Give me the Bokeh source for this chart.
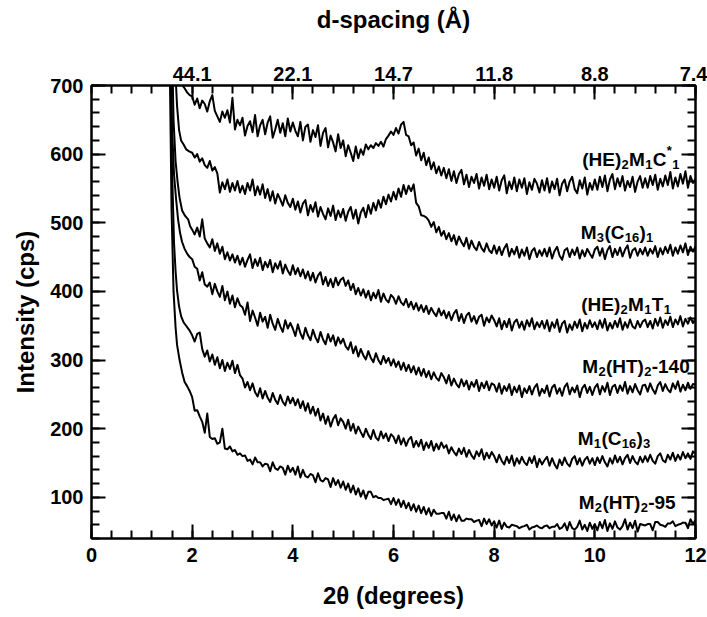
from bokeh.plotting import figure
from bokeh.models import LinearAxis, FixedTicker, ColumnDataSource
from bokeh.embed import file_html
from bokeh.resources import INLINE
from bokeh.core.properties import value

# ---------------- data ----------------
# common 2-theta sampling (degrees) for the noisy part of every pattern
x_grid = [round(2.0 + 0.05 * i, 2) for i in range(201)]

# (HE)2M1C*1
c1_lead_x = [1.50, 1.60, 1.66, 1.72, 1.78, 1.84, 1.90, 1.95]
c1_lead_y = [1100, 860, 760, 718, 703, 697, 690, 686]
c1_y = [
    684, 672, 681, 667, 678, 673, 662, 677, 686, 663, 655, 647, 662, 653, 664, 646, 682, 636, 650, 642,
    653, 627, 641, 648, 632, 657, 626, 642, 650, 629, 646, 655, 624, 636, 650, 631, 645, 626, 652, 633,
    646, 634, 626, 647, 620, 640, 643, 618, 635, 625, 642, 612, 631, 638, 610, 627, 617, 604, 629, 609,
    620, 597, 613, 602, 590, 611, 594, 607, 599, 614, 607, 613, 609, 616, 612, 618, 611, 622, 627, 633,
    628, 638, 630, 643, 647, 628, 626, 613, 617, 598, 608, 591, 602, 584, 595, 578, 588, 572, 582, 569,
    580, 565, 578, 561, 575, 558, 571, 577, 556, 570, 552, 567, 558, 571, 550, 566, 554, 570, 549, 563,
    551, 567, 547, 562, 569, 543, 560, 549, 566, 546, 563, 551, 565, 542, 559, 548, 564, 557, 544, 562,
    547, 565, 544, 560, 549, 564, 540, 557, 563, 546, 560, 567, 549, 543, 562, 550, 566, 541, 558, 548,
    563, 548, 567, 552, 569, 546, 563, 571, 549, 565, 553, 568, 547, 561, 552, 567, 545, 560, 568, 551,
    565, 551, 568, 555, 570, 548, 564, 553, 569, 555, 574, 550, 566, 553, 571, 557, 575, 551, 568, 558,
    564,
]

# M3(C16)1
c2_lead_x = [1.50, 1.60, 1.66, 1.70, 1.74, 1.78, 1.83, 1.88, 1.94]
c2_lead_y = [1100, 850, 730, 670, 635, 620, 614, 607, 604]
c2_y = [
    602, 595, 600, 589, 594, 584, 580, 590, 576, 581, 572, 544, 559, 549, 563, 545, 558, 547, 561, 544,
    554, 542, 558, 547, 563, 540, 553, 541, 556, 536, 549, 532, 546, 528, 542, 534, 525, 540, 529, 523,
    535, 519, 531, 515, 528, 533, 511, 526, 516, 530, 509, 523, 513, 505, 521, 510, 525, 504, 518, 508,
    520, 503, 516, 523, 506, 519, 499, 515, 522, 508, 526, 513, 529, 518, 533, 522, 538, 527, 541, 531,
    545, 534, 550, 538, 555, 542, 554, 546, 556, 529, 524, 511, 510, 508, 503, 494, 501, 486, 494, 481,
    488, 476, 485, 473, 482, 468, 480, 472, 466, 478, 462, 474, 465, 460, 472, 463, 458, 470, 460, 456,
    467, 455, 465, 453, 463, 469, 451, 462, 454, 465, 449, 461, 452, 464, 447, 459, 463, 450, 460, 452,
    462, 451, 464, 448, 459, 465, 452, 446, 460, 463, 450, 461, 453, 464, 448, 460, 451, 462, 455, 449,
    461, 465, 452, 463, 447, 460, 466, 450, 462, 453, 464, 451, 461, 467, 449, 460, 463, 452, 462, 454,
    464, 452, 462, 455, 466, 450, 463, 454, 465, 456, 468, 452, 464, 455, 467, 457, 470, 453, 465, 458,
    466,
]

# (HE)2M1T1
c3_lead_x = [1.50, 1.58, 1.63, 1.67, 1.71, 1.75, 1.80, 1.86, 1.92, 1.96]
c3_lead_y = [1100, 820, 650, 590, 560, 536, 518, 510, 505, 495]
c3_y = [
    490, 483, 493, 480, 505, 477, 470, 464, 476, 459, 470, 455, 465, 447, 457, 445, 454, 442, 452, 439,
    449, 436, 446, 454, 434, 447, 437, 449, 431, 443, 435, 446, 428, 441, 433, 444, 426, 439, 430, 424,
    438, 425, 434, 422, 432, 419, 429, 416, 427, 413, 423, 428, 410, 421, 408, 418, 406, 420, 409, 417,
    420, 408, 416, 402, 411, 396, 405, 394, 403, 391, 401, 387, 398, 390, 402, 385, 397, 388, 384, 395,
    391, 382, 393, 384, 380, 389, 377, 385, 374, 383, 372, 380, 370, 379, 367, 376, 369, 364, 375, 365,
    372, 361, 370, 358, 368, 373, 357, 367, 354, 365, 369, 356, 364, 353, 363, 366, 350, 362, 355, 365,
    358, 349, 361, 345, 357, 348, 360, 343, 355, 359, 347, 356, 344, 358, 349, 361, 345, 355, 348, 357,
    346, 358, 342, 355, 347, 359, 341, 353, 357, 340, 352, 344, 356, 347, 359, 342, 354, 346, 358, 348,
    355, 345, 358, 347, 360, 343, 354, 346, 357, 348, 361, 344, 355, 347, 359, 349, 346, 357, 348, 356,
    359, 348, 357, 346, 360, 350, 362, 347, 358, 351, 363, 348, 359, 352, 364, 349, 360, 353, 362, 354,
    360,
]

# M2(HT)2-140
c4_lead_x = [1.50, 1.56, 1.60, 1.64, 1.68, 1.72, 1.76, 1.80, 1.85, 1.90, 1.95]
c4_lead_y = [1100, 800, 640, 570, 535, 505, 485, 472, 462, 455, 450]
c4_y = [
    447, 436, 433, 416, 428, 410, 407, 413, 396, 411, 400, 392, 408, 387, 400, 382, 394, 377, 390, 380,
    377, 366, 384, 357, 372, 362, 350, 369, 356, 363, 347, 366, 353, 344, 360, 349, 341, 358, 346, 354,
    346, 335, 352, 339, 331, 347, 336, 329, 344, 333, 326, 341, 330, 323, 338, 327, 336, 321, 333, 324,
    331, 320, 315, 326, 310, 320, 305, 316, 307, 301, 313, 303, 297, 310, 300, 294, 306, 296, 303, 292,
    301, 290, 298, 286, 296, 284, 293, 282, 291, 279, 289, 277, 287, 275, 284, 272, 282, 274, 270, 281,
    275, 266, 278, 263, 273, 265, 260, 272, 262, 270, 257, 268, 261, 271, 255, 267, 259, 269, 256, 266,
    264, 254, 266, 251, 262, 255, 265, 249, 261, 253, 263, 246, 259, 252, 262, 250, 260, 265, 248, 258,
    252, 263, 247, 260, 264, 251, 259, 248, 261, 266, 250, 260, 253, 263, 246, 259, 264, 252, 261, 249,
    260, 265, 250, 262, 254, 267, 249, 261, 264, 252, 263, 255, 268, 251, 262, 253, 265, 256, 250, 263,
    264, 254, 266, 257, 251, 263, 268, 255, 265, 257, 253, 266, 258, 269, 254, 264, 256, 267, 258, 265,
    264,
]

# M1(C16)3
c5_lead_x = [1.50, 1.56, 1.60, 1.64, 1.67, 1.70, 1.74, 1.78, 1.83, 1.88, 1.94]
c5_lead_y = [1100, 780, 580, 470, 430, 401, 378, 364, 355, 350, 344]
c5_y = [
    336, 327, 338, 340, 316, 305, 314, 298, 308, 293, 304, 288, 300, 284, 296, 287, 299, 281, 293, 278,
    273, 260, 268, 256, 266, 253, 247, 259, 244, 255, 245, 239, 252, 242, 236, 249, 239, 234, 247, 237,
    245, 234, 243, 230, 240, 226, 237, 222, 232, 219, 229, 212, 222, 207, 218, 203, 214, 220, 205, 215,
    210, 200, 213, 197, 207, 193, 203, 195, 188, 200, 191, 185, 198, 187, 183, 196, 186, 193, 182, 192,
    188, 179, 190, 177, 186, 175, 184, 188, 173, 182, 174, 184, 169, 180, 172, 182, 168, 178, 170, 180,
    172, 176, 164, 173, 166, 161, 171, 163, 172, 159, 169, 161, 156, 167, 160, 170, 155, 165, 157, 166,
    160, 151, 162, 153, 148, 159, 150, 161, 146, 157, 149, 159, 151, 147, 158, 150, 160, 144, 156, 148,
    154, 159, 146, 157, 148, 142, 155, 147, 158, 149, 145, 156, 160, 148, 157, 146, 155, 159, 149, 157,
    147, 158, 150, 160, 151, 145, 157, 149, 161, 151, 159, 148, 157, 162, 150, 160, 152, 148, 159, 151,
    160, 152, 162, 153, 149, 160, 164, 154, 151, 162, 155, 165, 153, 162, 155, 166, 157, 164, 156, 167,
    163,
]

# M2(HT)2-95
c6_lead_x = [1.50, 1.55, 1.59, 1.63, 1.67, 1.70, 1.75, 1.80, 1.85, 1.90, 1.95]
c6_lead_y = [1100, 760, 520, 400, 348, 322, 300, 282, 268, 262, 255]
c6_y = [
    246, 226, 227, 218, 210, 194, 222, 188, 185, 186, 178, 180, 200, 171, 170, 174, 167, 169, 162, 164,
    160, 161, 153, 155, 148, 158, 151, 151, 145, 149, 148, 138, 151, 142, 140, 145, 143, 133, 146, 137,
    143, 133, 145, 129, 140, 131, 129, 134, 132, 122, 135, 125, 123, 128, 126, 115, 128, 118, 125, 114,
    123, 111, 120, 107, 117, 104, 113, 101, 110, 98, 108, 108, 100, 102, 99, 99, 96, 97, 98, 90,
    99, 89, 97, 86, 95, 84, 92, 81, 90, 79, 88, 77, 86, 75, 84, 73, 82, 76, 76, 77,
    77, 69, 79, 67, 75, 65, 74, 66, 66, 69, 68, 68, 64, 66, 67, 58, 69, 61, 68, 59,
    65, 56, 66, 54, 63, 57, 56, 60, 59, 58, 55, 57, 58, 60, 53, 56, 57, 59, 56, 55,
    58, 59, 55, 57, 57, 61, 54, 56, 62, 52, 64, 55, 53, 57, 66, 53, 60, 51, 63, 54,
    61, 52, 64, 55, 67, 51, 62, 54, 65, 56, 53, 58, 68, 53, 63, 55, 66, 50, 61, 60,
    59, 61, 61, 52, 64, 64, 60, 59, 57, 62, 62, 65, 58, 60, 61, 63, 63, 55, 68, 61,
    67,
]

# axis ticks
x_major_ticks = [0, 2, 4, 6, 8, 10, 12]
x_minor_ticks = [round(0.4 * i, 1) for i in range(31)]
y_major_ticks = [100, 200, 300, 400, 500, 600, 700]
y_minor_ticks = list(range(40, 701, 20))
top_ticks = [2, 4, 6, 8, 10, 12]
top_tick_labels = ["44.1", "22.1", "14.7", "11.8", "8.8", "7.4"]

# ---------------- figure ----------------
FONT = "Liberation Sans"

p = figure(width=707, height=617, x_range=(0, 12), y_range=(40, 700),
           output_backend="svg", toolbar_location=None,
           min_border_left=91, min_border_right=12, min_border_top=85, min_border_bottom=79)
p.grid.visible = False
p.outline_line_color = "black"
p.outline_line_width = 2
p.background_fill_color = "white"
p.border_fill_color = "white"


def style_axis(ax):
    ax.axis_line_width = 2
    ax.axis_line_color = "black"
    ax.major_tick_line_width = 2
    ax.minor_tick_line_width = 2
    ax.major_tick_line_color = "black"
    ax.minor_tick_line_color = "black"
    ax.major_tick_in = 14
    ax.major_tick_out = 0
    ax.minor_tick_in = 8
    ax.minor_tick_out = 0
    ax.major_label_text_font = FONT
    ax.major_label_text_font_style = "bold"
    ax.major_label_text_font_size = "20px"
    ax.major_label_text_color = "black"
    ax.axis_label_text_font = FONT
    ax.axis_label_text_font_style = "bold"
    ax.axis_label_text_font_size = "24px"
    ax.axis_label_text_color = "black"


xa = p.xaxis[0]
xa.ticker = FixedTicker(ticks=x_major_ticks, minor_ticks=x_minor_ticks)
xa.axis_label = "2θ (degrees)"
style_axis(xa)
xa.major_label_standoff = 9
xa.axis_label_standoff = 17

ya = p.yaxis[0]
ya.ticker = FixedTicker(ticks=y_major_ticks, minor_ticks=y_minor_ticks)
ya.axis_label = "Intensity (cps)"
style_axis(ya)
ya.major_label_standoff = 8
ya.axis_label_standoff = 8

top = LinearAxis(ticker=FixedTicker(ticks=top_ticks, minor_ticks=x_minor_ticks),
                 axis_label="d-spacing (Å)",
                 major_label_overrides={t: l for t, l in zip(top_ticks, top_tick_labels)})
style_axis(top)
top.major_label_standoff = 5
top.axis_label_standoff = 31
p.add_layout(top, "above")

right = LinearAxis(ticker=FixedTicker(ticks=y_major_ticks, minor_ticks=y_minor_ticks),
                   major_label_overrides={t: "" for t in y_major_ticks})
style_axis(right)
right.major_label_standoff = 0
p.add_layout(right, "right")

# ---------------- curves ----------------
curves = [
    (c1_lead_x, c1_lead_y, c1_y),
    (c2_lead_x, c2_lead_y, c2_y),
    (c3_lead_x, c3_lead_y, c3_y),
    (c4_lead_x, c4_lead_y, c4_y),
    (c5_lead_x, c5_lead_y, c5_y),
    (c6_lead_x, c6_lead_y, c6_y),
]
for lx, ly, cy in curves:
    n = min(len(x_grid), len(cy))
    xs = list(lx) + x_grid[:n]
    ys = list(ly) + cy[:n]
    p.line(xs, ys, line_color="black", line_width=2, line_join="round")

# ---------------- curve labels (with sub/superscripts) ----------------
W = {'(': 333, ')': 333, 'H': 722, 'E': 667, 'M': 833, 'C': 722, 'T': 611,
     '-': 333, '*': 389}
for d in "0123456789":
    W[d] = 556

MAIN = 19
SMALL = 13


def text_width(s, size):
    return sum(W.get(ch, 556) for ch in s) * size / 1000.0


labels = [
    (9.75, 592.0, [("(HE)", "n"), ("2", "sub"), ("M", "n"), ("1", "sub"), ("C", "n"), ("*", "sup"), ("1", "sub")]),
    (9.72, 486.0, [("M", "n"), ("3", "sub"), ("(C", "n"), ("16", "sub"), (")", "n"), ("1", "sub")]),
    (9.73, 381.0, [("(HE)", "n"), ("2", "sub"), ("M", "n"), ("1", "sub"), ("T", "n"), ("1", "sub")]),
    (9.75, 291.0, [("M", "n"), ("2", "sub"), ("(HT)", "n"), ("2", "sub"), ("-140", "n")]),
    (9.66, 185.0, [("M", "n"), ("1", "sub"), ("(C", "n"), ("16", "sub"), (")", "n"), ("3", "sub")]),
    (9.68, 93.0, [("M", "n"), ("2", "sub"), ("(HT)", "n"), ("2", "sub"), ("-95", "n")]),
]

big = dict(x=[], y=[], text=[], xo=[], yo=[])
small = dict(x=[], y=[], text=[], xo=[], yo=[])
for lx, ly, segs in labels:
    off = 0.0
    for s, kind in segs:
        if kind == "n":
            d = big
            yo = 0
            w = text_width(s, MAIN)
        else:
            d = small
            yo = 5 if kind == "sub" else -9
            w = text_width(s, SMALL)
        d["x"].append(lx)
        d["y"].append(ly)
        d["text"].append(s)
        d["xo"].append(off)
        d["yo"].append(yo)
        off += w + 0.3

p.text(x="x", y="y", text="text", x_offset="xo", y_offset="yo",
       source=ColumnDataSource(big), text_font=value(FONT), text_font_style="bold",
       text_font_size=value(f"{MAIN}px"), text_baseline="alphabetic", text_align="left",
       text_color="black")
p.text(x="x", y="y", text="text", x_offset="xo", y_offset="yo",
       source=ColumnDataSource(small), text_font=value(FONT), text_font_style="bold",
       text_font_size=value(f"{SMALL}px"), text_baseline="alphabetic", text_align="left",
       text_color="black")

open("out.html", "w").write(file_html(p, INLINE))
